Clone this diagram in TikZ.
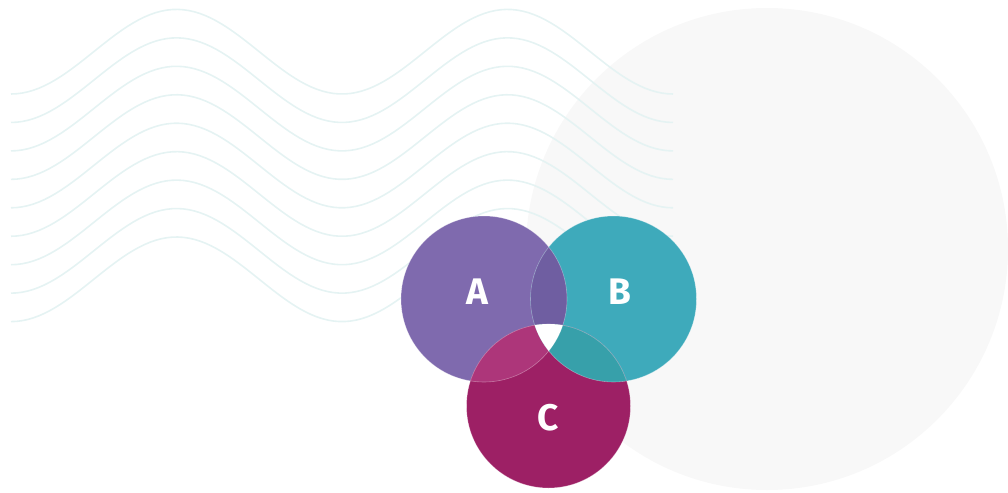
\documentclass[tikz,border=0pt]{standalone}
\usepackage{fontspec}
\setsansfont{Fira Sans}
\definecolor{backdrop}{RGB}{248,248,248}
\definecolor{waveteal}{RGB}{229,243,243}
\definecolor{setA}{RGB}{127,106,174}
\definecolor{setB}{RGB}{62,170,187}
\definecolor{setC}{RGB}{157,32,101}
\definecolor{setAB}{RGB}{111,94,161}
\definecolor{setAC}{RGB}{173,54,122}
\definecolor{setBC}{RGB}{55,160,170}
\begin{document}
\begin{tikzpicture}[x=1pt,y=-1pt,
    wave/.style={draw=waveteal, line width=1.6pt},
    rim/.style={draw=white, draw opacity=0.35, line width=0.6pt},
    setlabel/.style={text=white, inner sep=0pt,
      font=\sffamily\bfseries\fontsize{37}{37}\selectfont}]
  \useasboundingbox (0,0) rectangle (1008,492);
  % backdrop disc and waves
  \fill[backdrop] (767,249) circle (241pt);
  \foreach \i in {0,...,8}
    \draw[wave] plot[domain=11:673, samples=120]
      (\x, {51.7+28.45*\i+42.3*cos((\x-11)/165.5*180)});
  % the three sets
  \coordinate (A) at (484,299);
  \coordinate (B) at (613.5,299);
  \coordinate (C) at (548.5,406);
  \fill[setA] (A) circle (83pt);
  \fill[setB] (B) circle (83pt);
  \fill[setC] (C) circle (82pt);
  \begin{scope}
    \clip (A) circle (83pt);
    \fill[setAB] (B) circle (83pt);
    \fill[setAC] (C) circle (82pt);
  \end{scope}
  \begin{scope}
    \clip (B) circle (83pt);
    \fill[setBC] (C) circle (82pt);
  \end{scope}
  \begin{scope}
    \clip (A) circle (83pt);
    \clip (B) circle (83pt);
    \fill[white] (C) circle (82pt);
  \end{scope}
  \draw[rim] (A) circle (83pt) (B) circle (83pt) (C) circle (82pt);
  % labels
  \node[setlabel] (labA) at ([shift={(-7,-7)}]A) {A};
  \node[setlabel] (labB) at ([shift={(6,-7)}]B) {B};
  \node[setlabel] (labC) at ([shift={(0,12)}]C) {C};
\end{tikzpicture}
\end{document}
